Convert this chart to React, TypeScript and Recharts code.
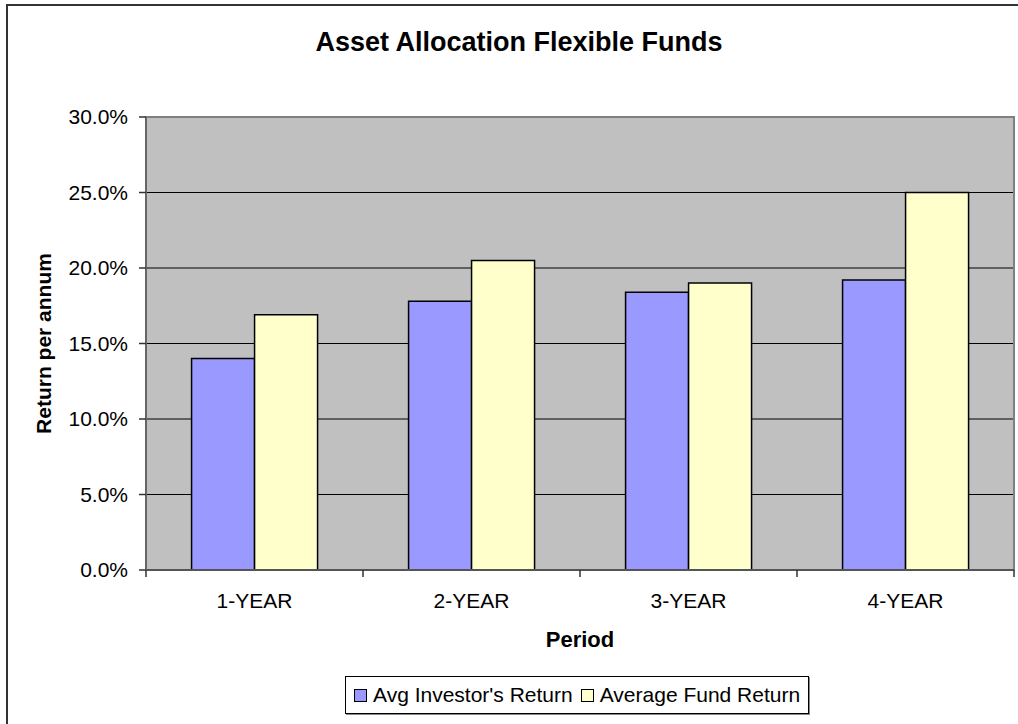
import { BarChart, Bar, XAxis, YAxis, CartesianGrid, Legend, ReferenceArea } from 'recharts';

const periods = ['1-YEAR', '2-YEAR', '3-YEAR', '4-YEAR'];
const investorReturn = [0.14, 0.178, 0.184, 0.192];
const fundReturn = [0.169, 0.205, 0.19, 0.25];
const yTicks = [0, 0.05, 0.1, 0.15, 0.2, 0.25, 0.3];

const data = periods.map((p, i) => ({
  period: p,
  investor: investorReturn[i],
  fund: fundReturn[i],
}));

const FONT = '"Liberation Sans", Arial, sans-serif';
const W = 1018;
const H = 724;
const Y_W = 146;
const M_RIGHT = 4;
const HALF_BAND = (W - Y_W - M_RIGHT) / periods.length / 2;

const XTick = (props: any) => {
  const { x, y, payload, index } = props;
  const top = y - 8;
  return (
    <g>
      {index === 0 && <line x1={x - HALF_BAND} x2={x - HALF_BAND} y1={top} y2={top + 7} stroke="#333" strokeWidth={1.5} />}
      <line x1={x + HALF_BAND} x2={x + HALF_BAND} y1={top} y2={top + 7} stroke="#333" strokeWidth={1.5} />
      <text x={x} y={top + 38} textAnchor="middle" fontSize={21} fontFamily={FONT} fill="#000">
        {payload.value}
      </text>
    </g>
  );
};

const LegendBox = () => (
  <div style={{ display: 'flex', justifyContent: 'flex-start', height: 44, paddingLeft: 345 }}>
    <div
      style={{
        border: '1px solid #000',
        boxShadow: '1px 1px 0 #888',
        height: 38,
        boxSizing: 'border-box',
        padding: '0 8px',
        display: 'flex',
        alignItems: 'center',
        fontFamily: FONT,
        fontSize: 21,
        color: '#000',
        whiteSpace: 'nowrap',
      }}
    >
      <span style={{ width: 11, height: 11, background: '#9999FF', border: '1px solid #000', marginRight: 6 }} />
      <span style={{ marginRight: 8 }}>Avg Investor's Return</span>
      <span style={{ width: 11, height: 11, background: '#FFFFCC', border: '1px solid #000', marginRight: 6 }} />
      <span>Average Fund Return</span>
    </div>
  </div>
);

export default function App() {
  return (
    <div style={{ position: 'absolute', left: 0, top: 0, width: W, height: H, background: '#fff', overflow: 'hidden' }}>
      <div
        style={{
          position: 'absolute',
          left: 6,
          top: 4,
          width: W,
          height: H,
          borderTop: '2px solid #333',
          borderLeft: '2px solid #333',
          boxSizing: 'border-box',
        }}
      />
      <div
        style={{
          position: 'absolute',
          left: 10,
          width: W,
          top: 27,
          textAlign: 'center',
          fontFamily: FONT,
          fontWeight: 'bold',
          fontSize: 27,
        }}
      >
        Asset Allocation Flexible Funds
      </div>
      <BarChart
        width={W}
        height={H}
        data={data}
        margin={{ top: 117, right: M_RIGHT, bottom: 4, left: 0 }}
        barCategoryGap="21%"
        barGap={0}
        style={{ position: 'absolute', left: 0, top: 0 }}
      >
        <CartesianGrid vertical={false} stroke="#000" fill="#C0C0C0" />
        <XAxis
          dataKey="period"
          height={106}
          axisLine={{ stroke: '#555', strokeWidth: 2 }}
          tickLine={false}
          tick={<XTick />}
          interval={0}
          label={({ viewBox }: any) => (
            <text
              x={viewBox.x + viewBox.width / 2}
              y={viewBox.y + 77}
              textAnchor="middle"
              fontSize={22}
              fontWeight="bold"
              fontFamily={FONT}
              fill="#000"
            >
              Period
            </text>
          )}
        />
        <YAxis
          width={Y_W}
          domain={[0, 0.3]}
          ticks={yTicks}
          interval={0}
          tickFormatter={(v: number) => `${(v * 100).toFixed(1)}%`}
          tick={{ fontSize: 21, fontFamily: FONT, fill: '#000' }}
          tickSize={7}
          tickMargin={11}
          tickLine={{ stroke: '#333', strokeWidth: 1.5 }}
          axisLine={{ stroke: '#666', strokeWidth: 2 }}
          label={({ viewBox }: any) => (
            <text
              x={45}
              y={viewBox.y + viewBox.height / 2}
              transform={`rotate(-90, 45, ${viewBox.y + viewBox.height / 2})`}
              textAnchor="middle"
              dominantBaseline="middle"
              fontSize={21}
              fontWeight="bold"
              fontFamily={FONT}
              fill="#000"
            >
              Return per annum
            </text>
          )}
        />
        <ReferenceArea y1={0} y2={0.3} fill="none" stroke="#808080" strokeWidth={2} ifOverflow="visible" />
        <Legend verticalAlign="bottom" content={<LegendBox />} />
        <Bar dataKey="investor" name="Avg Investor's Return" fill="#9999FF" stroke="#000" strokeWidth={1.5} isAnimationActive={false} />
        <Bar dataKey="fund" name="Average Fund Return" fill="#FFFFCC" stroke="#000" strokeWidth={1.5} isAnimationActive={false} />
      </BarChart>
    </div>
  );
}
